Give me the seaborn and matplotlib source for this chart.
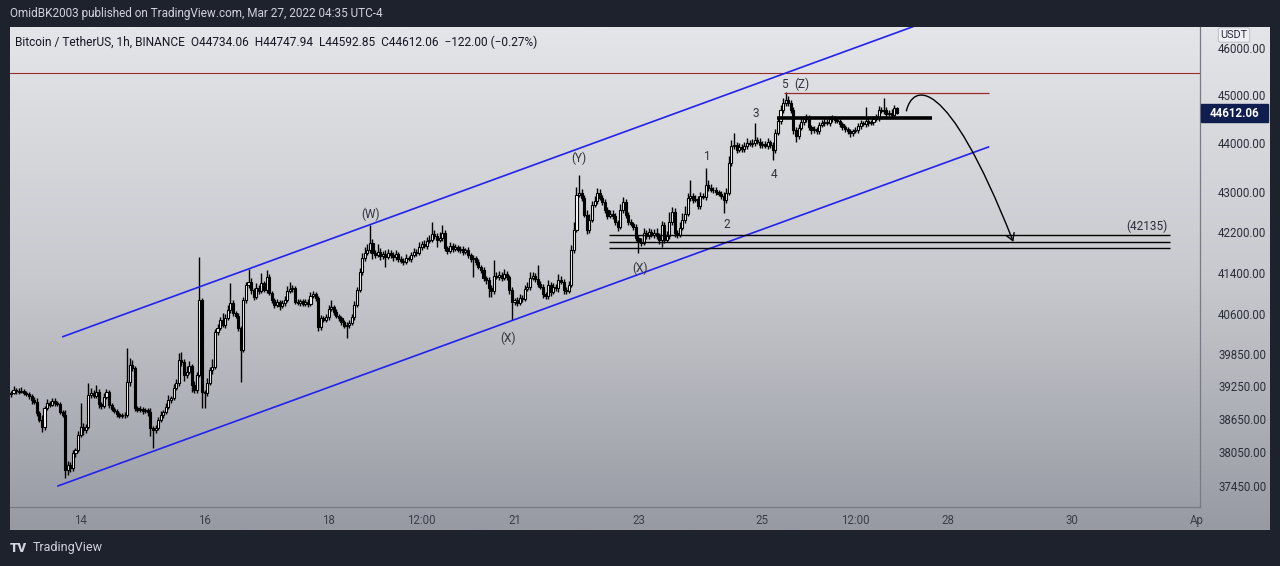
import numpy as np
import matplotlib
matplotlib.use("Agg")
import matplotlib.pyplot as plt
from matplotlib.path import Path
from matplotlib.patches import FancyArrowPatch, Rectangle
from matplotlib.colors import LinearSegmentedColormap
import seaborn as sns

# BTCUSDT 1h candles, first bar Mar 12 21:00 (UTC-4), x axis = day of March
first_hour = 12 + 21 / 24
first_open = 39100

closes = [
    39128, 39183, 39165, 39147, 39165, 39128, 39110, 39073, 38999, 38962, 38762, 38635,
    38508, 38852, 38944, 38908, 38981, 38944, 38926, 38780, 38725, 37738, 37827, 37773,
    38040, 38094, 38364, 38508, 38454, 38508, 39091, 39128, 39073, 39147, 38926, 38889,
    39054, 39147, 38908, 38834, 38798, 38743, 38707, 38725, 38725, 39330, 39645, 39589,
    38852, 38816, 38834, 38798, 38816, 38780, 38490, 38454, 38490, 38635, 38725, 38780,
    38871, 38999, 39036, 39220, 39312, 39738, 39701, 39459, 39515, 39626, 39275, 39183,
    39459, 40875, 39147, 39128, 39312, 39552, 39608, 40266, 40342, 40491, 40398, 40529,
    40681, 40817, 40624, 40567, 40342, 39925, 40875, 41161, 41220, 41065, 40932, 41103,
    41046, 41200, 41065, 41316, 41008, 40875, 40778, 40836, 40758, 40817, 40875, 41046,
    41084, 41103, 40836, 40817, 40856, 40797, 40836, 40797, 40951, 40989, 40913, 40360,
    40529, 40491, 40548, 40700, 40739, 40643, 40567, 40529, 40454, 40379, 40398, 40435,
    40548, 40778, 41065, 41413, 41686, 41786, 41845, 41983, 41786, 41746, 41806, 41726,
    41766, 41706, 41786, 41746, 41706, 41766, 41667, 41627, 41608, 41686, 41667, 41746,
    41806, 41786, 41904, 41963, 41924, 42020, 42039, 42158, 42118, 42039, 42079, 42178,
    41884, 41826, 41924, 41865, 41904, 41845, 41865, 41806, 41845, 41746, 41667, 41686,
    41608, 41510, 41452, 41297, 41258, 41103, 41046, 41335, 41316, 41355, 41297, 41374,
    41316, 41065, 40836, 40875, 40817, 40913, 40894, 41084, 41123, 41297, 41335, 41277,
    41181, 41123, 40989, 40951, 41161, 41027, 41123, 41103, 41258, 41220, 41065, 41046,
    41161, 41845, 42237, 42937, 42977, 42876, 42537, 42237, 42438, 42736, 42816, 42977,
    42876, 42796, 42636, 42517, 42557, 42517, 42398, 42297, 42636, 42796, 42537, 42398,
    42358, 42297, 42079, 42000, 41981, 42178, 42118, 42198, 42138, 42178, 42118, 42039,
    42338, 42039, 42118, 42398, 42596, 42178, 42138, 42277, 42438, 42557, 42876, 42917,
    42836, 42856, 42716, 42917, 42897, 43139, 43078, 43038, 43038, 42997, 42957, 42917,
    42836, 42977, 43587, 43935, 43956, 43853, 43915, 43874, 43935, 43998, 43977, 43998,
    44060, 44019, 43956, 43977, 43935, 44019, 43956, 43853, 44205, 44455, 44685, 44832,
    44895, 44832, 44685, 44267, 44143, 44308, 44434, 44496, 44517, 44329, 44267, 44288,
    44246, 44371, 44413, 44434, 44413, 44496, 44517, 44475, 44455, 44392, 44329, 44288,
    44246, 44205, 44246, 44267, 44350, 44413, 44392, 44455, 44413, 44434, 44496, 44517,
    44685, 44664, 44685, 44600, 44622, 44580, 44734.06, 44612.06,
]

wick_up = [
    40, 60, 30, 50, 70, 25, 40, 35, 30, 45, 60, 40,
    90, 40, 60, 30, 50, 45, 35, 30, 25, 80, 60, 40,
    50, 30, 70, 436, 60, 40, 221, 90, 50, 120, 40, 30,
    60, 45, 30, 35, 40, 25, 30, 40, 50, 632, 120, 80,
    40, 30, 50, 25, 40, 30, 60, 30, 45, 50, 70, 40,
    60, 90, 40, 70, 60, 130, 150, 60, 100, 80, 40, 60,
    50, 831, 40, 30, 90, 60, 140, 50, 70, 60, 120, 80,
    90, 383, 60, 40, 50, 40, 60, 50, 251, 70, 40, 90,
    60, 194, 40, 136, 50, 40, 30, 60, 40, 50, 70, 90,
    136, 60, 40, 50, 30, 40, 60, 45, 80, 60, 40, 30,
    50, 40, 60, 80, 130, 40, 50, 40, 30, 40, 50, 60,
    50, 70, 60, 80, 90, 120, 110, 355, 80, 60, 150, 70,
    60, 80, 70, 50, 60, 70, 40, 50, 60, 70, 40, 60,
    80, 60, 90, 60, 70, 80, 90, 240, 70, 60, 120, 160,
    60, 40, 70, 50, 60, 40, 60, 50, 40, 60, 40, 50,
    40, 50, 40, 60, 40, 50, 60, 312, 70, 80, 60, 90,
    60, 40, 50, 40, 60, 70, 50, 80, 90, 120, 80, 60,
    270, 60, 50, 40, 90, 60, 80, 50, 120, 70, 60, 50,
    80, 90, 150, 160, 365, 80, 60, 90, 110, 80, 100, 90,
    70, 60, 50, 60, 70, 80, 60, 40, 120, 90, 60, 50,
    60, 40, 50, 60, 70, 90, 60, 80, 50, 70, 90, 60,
    80, 60, 100, 200, 90, 70, 60, 110, 130, 150, 90, 324,
    60, 80, 50, 70, 60, 346, 90, 70, 60, 50, 40, 60,
    70, 90, 150, 120, 250, 60, 80, 60, 90, 110, 60, 80,
    353, 60, 70, 50, 60, 80, 40, 60, 90, 80, 100, 110,
    169, 90, 60, 70, 60, 80, 90, 70, 90, 60, 50, 60,
    50, 70, 60, 80, 60, 70, 60, 50, 60, 40, 50, 40,
    50, 40, 50, 60, 70, 60, 50, 293, 60, 50, 70, 80,
    90, 60, 252, 70, 60, 80, 60, 13.88,
]

wick_dn = [
    50, 30, 60, 40, 30, 50, 40, 60, 70, 50, 60, 40,
    90, 60, 40, 50, 30, 60, 40, 50, 40, 141, 90, 70,
    60, 80, 40, 50, 90, 60, 40, 60, 50, 40, 70, 60,
    40, 50, 60, 40, 50, 60, 40, 50, 60, 40, 80, 60,
    60, 50, 40, 60, 50, 70, 150, 324, 60, 50, 40, 60,
    50, 40, 60, 50, 40, 70, 80, 110, 60, 50, 140, 60,
    60, 40, 295, 276, 60, 50, 70, 40, 60, 50, 40, 60,
    50, 60, 70, 50, 60, 595, 50, 70, 60, 80, 60, 50,
    60, 40, 50, 60, 50, 70, 60, 40, 80, 50, 60, 40,
    50, 60, 40, 50, 60, 40, 50, 60, 40, 50, 60, 90,
    60, 50, 40, 60, 50, 60, 40, 70, 60, 50, 229, 60,
    50, 60, 40, 50, 60, 70, 50, 60, 120, 60, 50, 80,
    60, 200, 50, 60, 90, 60, 70, 50, 60, 40, 50, 60,
    50, 60, 40, 60, 50, 60, 40, 50, 60, 150, 50, 60,
    70, 60, 50, 60, 40, 50, 60, 70, 50, 60, 70, 350,
    60, 50, 70, 60, 80, 171, 114, 60, 50, 70, 60, 50,
    60, 80, 345, 60, 70, 50, 60, 50, 40, 60, 50, 70,
    60, 50, 80, 70, 60, 90, 50, 60, 80, 50, 90, 60,
    50, 40, 60, 50, 40, 60, 50, 80, 60, 50, 40, 60,
    50, 60, 70, 60, 50, 70, 60, 90, 50, 60, 70, 60,
    50, 60, 70, 213, 60, 50, 70, 60, 50, 60, 70, 90,
    135, 60, 50, 70, 60, 80, 60, 50, 40, 60, 50, 70,
    60, 50, 70, 60, 50, 60, 70, 50, 60, 70, 50, 60,
    260, 60, 50, 60, 70, 60, 50, 60, 70, 60, 50, 60,
    60, 50, 70, 60, 50, 60, 70, 205, 60, 50, 60, 70,
    60, 70, 60, 80, 124, 60, 50, 60, 70, 60, 80, 60,
    70, 60, 50, 60, 50, 60, 70, 60, 50, 60, 70, 60,
    60, 83, 60, 50, 60, 70, 50, 60, 70, 50, 60, 50,
    60, 50, 70, 60, 50, 60, 70, 19.21,
]

price_ticks = [37450, 38050, 38650, 39250, 39850, 40600, 41400, 42200, 43000, 44000, 45000, 46000]
day_ticks = [14, 16, 18, 19.5, 21, 23, 25, 26.5, 28, 30, 32]
day_labels = ["14", "16", "18", "12:00", "21", "23", "25", "12:00", "28", "30", "Ap"]

# drawings on the chart
channel_top_x, channel_top_y = [13.71, 28.19], [40170, 46843]
channel_bot_x, channel_bot_y = [13.63, 28.65], [37450, 43915]
support_levels = [42135, 41995, 41880]
support_span = (22.52, 31.57)
target_label = ("(42135)", 31.21, 42317)
top_line = 45466
high_line, high_span = 45050, (25.34, 28.65)
mid_line, mid_span = 44517, (25.24, 27.74)
arrow_x = [27.323, 27.419, 27.952, 29.048]
arrow_y = [44664, 45212, 45532, 42000]
wave_text = ["(W)", "(X)", "(Y)", "(X)", "1", "2", "3", "4", "5", "(Z)"]
wave_x = [18.68, 20.90, 22.03, 23.02, 24.11, 24.42, 24.90, 25.19, 25.36, 25.63]
wave_y = [42557, 40132, 43689, 41472, 43710, 42337, 44601, 43342, 45212, 45233]

W, H = 1280, 566
sns.set_theme(style="white")
plt.rcParams["font.family"] = ["Roboto", "DejaVu Sans"]

fig = plt.figure(figsize=(W / 100, H / 100), dpi=100)
fig.patch.set_facecolor("#1e222d")


def fx(px):
    return px / W


def fy(py):
    return 1 - py / H


# gradient panel behind chart
bg = fig.add_axes([fx(10), fy(530), fx(1260), (530 - 27) / H])
grad = LinearSegmentedColormap.from_list("tv", ["#e4e5e8", "#c8c9ce", "#979aa3"])
bg.imshow(np.linspace(0, 1, 256).reshape(-1, 1), aspect="auto", cmap=grad)
bg.set_axis_off()

ax = fig.add_axes([fx(10), fy(507), fx(1190), (507 - 27) / H])
ax.set_facecolor("none")

n = len(closes)
t = first_hour + np.arange(n) / 24
c = np.array(closes, dtype=float)
o = np.r_[first_open, c[:-1]]
top = np.maximum(o, c)
bot = np.minimum(o, c)
hi = top + np.array(wick_up)
lo = bot - np.array(wick_dn)
up = c >= o

ax.vlines(t, lo, hi, color="black", lw=1.0, zorder=3)
ax.bar(t[up], (top - bot)[up], bottom=bot[up], width=0.8 / 24,
       color="white", edgecolor="black", linewidth=0.8, zorder=4)
ax.bar(t[~up], (top - bot)[~up], bottom=bot[~up], width=0.8 / 24,
       color="black", edgecolor="black", linewidth=0.8, zorder=4)

# channel
sns.lineplot(x=channel_top_x, y=channel_top_y, ax=ax, color="#2222ee", lw=1.2, zorder=5)
sns.lineplot(x=channel_bot_x, y=channel_bot_y, ax=ax, color="#2222ee", lw=1.2, zorder=5)

# horizontal levels
ax.axhline(top_line, color="#9c2b2b", lw=0.8, zorder=2)
ax.hlines(high_line, *high_span, color="#9c2b2b", lw=0.9, zorder=5)
ax.hlines(mid_line, *mid_span, color="black", lw=2.6, zorder=5)
for lvl in support_levels:
    ax.hlines(lvl, *support_span, color="black", lw=1.0, zorder=5)
ax.text(target_label[1], target_label[2], target_label[0], fontsize=8.5,
        color="#2a2e39", ha="center", va="center", zorder=6)

# projected path
verts = list(zip(arrow_x, arrow_y))
path = Path(verts, [Path.MOVETO, Path.CURVE4, Path.CURVE4, Path.CURVE4])
arr = FancyArrowPatch(path=path, arrowstyle="->,head_length=5,head_width=3",
                      color="black", lw=1.0, zorder=6)
ax.add_patch(arr)

for s, xx, yy in zip(wave_text, wave_x, wave_y):
    ax.text(xx, yy, s, fontsize=8.5, color="#2f323a", ha="center", va="center", zorder=6)

ax.set_yscale("log")
ax.set_xlim(12.86, 32.06)
ax.set_ylim(37083, 46459)
ax.yaxis.tick_right()
ax.set_yticks(price_ticks)
ax.set_yticklabels([f"{p:.2f}" for p in price_ticks])
ax.yaxis.set_minor_locator(matplotlib.ticker.NullLocator())
ax.set_xticks(day_ticks)
ax.set_xticklabels(day_labels)
ax.tick_params(axis="y", length=0, pad=13, labelsize=8.3, labelcolor="#2a2e39")
ax.tick_params(axis="x", length=0, pad=5, labelsize=8.3, labelcolor="#3a3e49")
for side in ["left", "top"]:
    ax.spines[side].set_visible(False)
for side in ["right", "bottom"]:
    ax.spines[side].set_color("#787b86")
    ax.spines[side].set_linewidth(0.9)
ax.grid(False)

# current price tag
fig.canvas.draw()
ytag = ax.transData.transform((20, closes[-1]))[1]
fig.patches.append(Rectangle((1201 / W, (ytag - 9) / H), 67 / W, 18 / H,
                             transform=fig.transFigure, color="#0f1d4f", zorder=10))
fig.text(fx(1234), ytag / H, f"{closes[-1]:.2f}", color="white", fontsize=8.3,
         fontweight="bold", ha="center", va="center", zorder=11)

# USDT badge, sits just above the top price label
fig.text(fx(1234), fy(35), "USDT", fontsize=7.8, color="#2a2e39", ha="center", va="center",
         zorder=11, bbox=dict(boxstyle="round,pad=0.2", fc="#eef0f4", ec="#b2b5be", lw=0.6))

# header texts
fig.text(fx(10), fy(13), "OmidBK2003 published on TradingView.com, Mar 27, 2022 04:35 UTC-4",
         fontsize=8.5, color="#d1d4dc", ha="left", va="center")
fig.text(fx(15), fy(42),
         "Bitcoin / TetherUS, 1h, BINANCE  O44734.06  H44747.94  L44592.85  C44612.06  \u2212122.00 (\u22120.27%)",
         fontsize=8.6, color="#131722", ha="left", va="center")
fig.text(fx(10), fy(548), "TV", fontsize=9.5, fontweight="heavy", color="#d1d4dc", ha="left", va="center")
fig.text(fx(33), fy(548), "TradingView", fontsize=9, color="#d1d4dc", ha="left", va="center")

fig.savefig("out.png", dpi=100, facecolor=fig.get_facecolor())
